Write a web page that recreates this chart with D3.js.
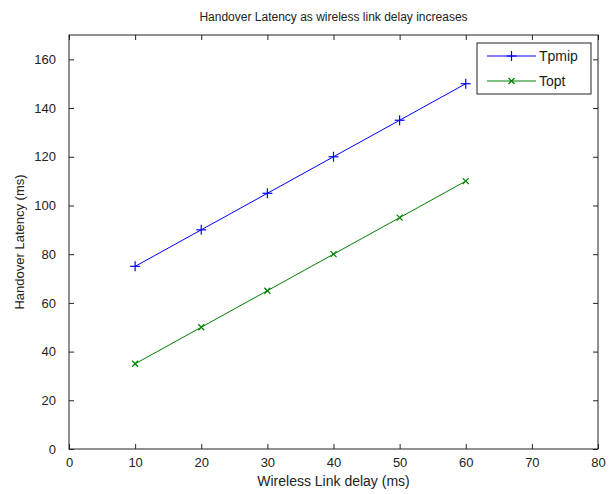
<!DOCTYPE html>
<html>
<head>
<meta charset="utf-8">
<script src="https://cdn.jsdelivr.net/npm/d3@7"></script>
<style>
  body { margin: 0; background: #fff; }
  text { font-family: "Liberation Sans", Arial, sans-serif; fill: #222; }
</style>
</head>
<body>
<svg id="grafico"></svg>
<script>
// dados
const atrasos = [10, 20, 30, 40, 50, 60];
const tpmip = [75, 90, 105, 120, 135, 150];
const topt = [35, 50, 65, 80, 95, 110];
const ticksX = [0, 10, 20, 30, 40, 50, 60, 70, 80];
const ticksY = [0, 20, 40, 60, 80, 100, 120, 140, 160];

const largura = 611, altura = 494;
const margem = { esquerda: 69, direita: 13, superior: 35, inferior: 45 };
const larguraPlotagem = largura - margem.esquerda - margem.direita;
const alturaPlotagem = altura - margem.superior - margem.inferior;

const svg = d3.select('#grafico')
    .attr('width', largura)
    .attr('height', altura);

const plotagem = svg.append('g')
    .attr('transform', 'translate(' + margem.esquerda + ',' + margem.superior + ')');

const fnX = d3.scaleLinear().domain([0, 80]).range([0, larguraPlotagem]);
const fnY = d3.scaleLinear().domain([0, 170]).range([alturaPlotagem, 0]);

// eixos com marcas para dentro, estilo matlab
function estilo(g) {
    g.select('.domain').remove();
    g.selectAll('.tick line').attr('stroke', '#222');
    g.selectAll('.tick text').style('font-size', '13px').attr('fill', '#222');
}

plotagem.append('g')
    .attr('transform', 'translate(0,' + alturaPlotagem + ')')
    .call(d3.axisBottom(fnX).tickValues(ticksX).tickSize(-5).tickPadding(9))
    .call(estilo);
plotagem.append('g')
    .call(d3.axisTop(fnX).tickValues(ticksX).tickSize(-5).tickFormat(''))
    .call(estilo);
plotagem.append('g')
    .call(d3.axisLeft(fnY).tickValues(ticksY).tickSize(-5).tickPadding(13))
    .call(estilo);
plotagem.append('g')
    .attr('transform', 'translate(' + larguraPlotagem + ',0)')
    .call(d3.axisRight(fnY).tickValues(ticksY).tickSize(-5).tickFormat(''))
    .call(estilo);

plotagem.append('rect')
    .attr('width', larguraPlotagem)
    .attr('height', alturaPlotagem)
    .attr('fill', 'none')
    .attr('stroke', '#222');

const series = [
    { nome: 'Tpmip', valores: tpmip, cor: '#0000ff', marca: 'mais' },
    { nome: 'Topt', valores: topt, cor: '#008000', marca: 'xis' }
];

function desenheMarca(g, tipo, cor) {
    const t = tipo === 'mais' ? 5 : 3;
    if (tipo === 'mais') {
        g.append('line').attr('x1', -t).attr('x2', t).attr('y1', 0).attr('y2', 0);
        g.append('line').attr('x1', 0).attr('x2', 0).attr('y1', -t).attr('y2', t);
    } else {
        g.append('line').attr('x1', -t).attr('x2', t).attr('y1', -t).attr('y2', t);
        g.append('line').attr('x1', -t).attr('x2', t).attr('y1', t).attr('y2', -t);
    }
    g.selectAll('line').attr('stroke', cor).attr('stroke-width', 1.2);
}

const linha = d3.line()
    .x((d, i) => fnX(atrasos[i]))
    .y((d) => fnY(d));

series.forEach((s) => {
    plotagem.append('path')
        .datum(s.valores)
        .attr('d', linha)
        .attr('fill', 'none')
        .attr('stroke', s.cor)
        .attr('stroke-width', 1);
    plotagem.selectAll('.m-' + s.nome)
        .data(s.valores)
        .enter()
        .append('g')
        .attr('transform', (d, i) => 'translate(' + fnX(atrasos[i]) + ',' + fnY(d) + ')')
        .each(function () { desenheMarca(d3.select(this), s.marca, s.cor); });
});

// legenda
const legenda = svg.append('g').attr('transform', 'translate(477,43)');
legenda.append('rect')
    .attr('width', 114).attr('height', 51)
    .attr('fill', '#fff').attr('stroke', '#222');
series.forEach((s, i) => {
    const y = 13 + i * 25;
    legenda.append('line')
        .attr('x1', 10).attr('x2', 59).attr('y1', y).attr('y2', y)
        .attr('stroke', s.cor);
    desenheMarca(legenda.append('g').attr('transform', 'translate(34.5,' + y + ')'), s.marca, s.cor);
    legenda.append('text')
        .attr('x', 62).attr('y', y)
        .attr('dy', '0.35em')
        .style('font-size', '14px')
        .text(s.nome);
});

svg.append('text')
    .attr('x', margem.esquerda + larguraPlotagem / 2)
    .attr('y', 21)
    .style('text-anchor', 'middle')
    .style('font-size', '12px')
    .text('Handover Latency as wireless link delay increases');

svg.append('text')
    .attr('x', margem.esquerda + larguraPlotagem / 2)
    .attr('y', 486)
    .style('text-anchor', 'middle')
    .style('font-size', '14px')
    .text('Wireless Link delay (ms)');

svg.append('text')
    .attr('transform', 'translate(24,' + (margem.superior + alturaPlotagem / 2) + ') rotate(-90)')
    .style('text-anchor', 'middle')
    .style('font-size', '13px')
    .text('Handover Latency (ms)');
</script>
</body>
</html>
